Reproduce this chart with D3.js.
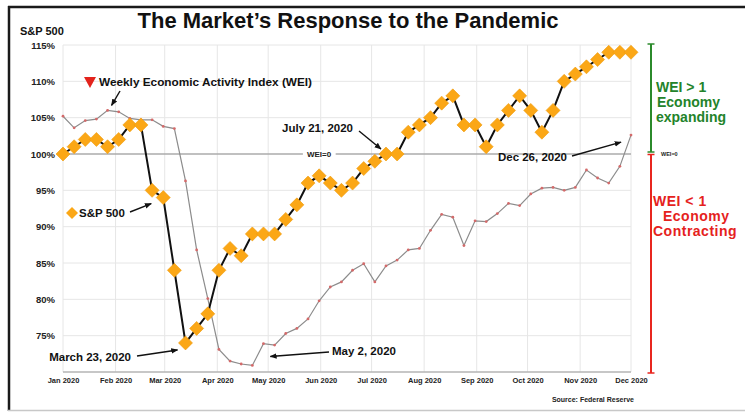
<!DOCTYPE html>
<html>
<head>
<meta charset="utf-8">
<script src="https://cdn.jsdelivr.net/npm/d3@7"></script>
<style>
  html, body { margin: 0; padding: 0; background: #fff; }
  svg { display: block; font-family: "Liberation Sans", Arial, Helvetica, sans-serif; font-weight: bold; }
</style>
</head>
<body>
<svg id="chart" width="745" height="412"></svg>
<script>
// Weekly observations, Jan 2020 through Dec 2020 (52 weeks)
const weeks = Array.from({ length: 52 }, (_, i) => i + 1);

// S&P 500, indexed to 100% at the start of the year
const sp500 = [
  100, 101, 102, 102, 101, 102, 104, 104, 95, 94,
  84, 74, 76, 78, 84, 87, 86, 89, 89, 89,
  91, 93, 96, 97, 96, 95, 96, 98, 99, 100,
  100, 103, 104, 105, 107, 108, 104, 104, 101, 104,
  106, 108, 106, 103, 106, 110, 111, 112, 113, 114,
  114, 114
];

// Weekly Economic Activity Index, drawn on the same percent scale (100% = WEI 0)
const wei = [
  105.2, 103.6, 104.6, 104.8, 106.0, 105.8, 104.9, 104.7, 104.7, 103.8,
  103.5, 96.3, 86.8, 80.1, 73.1, 71.5, 71.1, 70.9, 73.9, 73.7,
  75.3, 76.0, 77.3, 79.8, 81.7, 82.4, 84.0, 84.9, 82.4, 84.6,
  85.4, 86.8, 87.0, 89.5, 91.7, 91.3, 87.4, 90.8, 90.7, 91.8,
  93.2, 92.9, 94.5, 95.3, 95.4, 95.0, 95.4, 97.8, 96.7, 96.0,
  98.3, 102.6
];

// Axis ticks
const yTicks = [75, 80, 85, 90, 95, 100, 105, 110, 115];
const monthTicks = ["2020-01-01", "2020-02-01", "2020-03-01", "2020-04-01", "2020-05-01", "2020-06-01",
                    "2020-07-01", "2020-08-01", "2020-09-01", "2020-10-01", "2020-11-01", "2020-12-01"];

const svg = d3.select("#chart");

const plot = { left: 63, right: 631, top: 45, bottom: 372 };

const x = d3.scaleLinear().domain([1, 52]).range([plot.left, plot.right]);
const xTime = d3.scaleTime()
  .domain([new Date(2020, 0, 1), new Date(2020, 11, 1)])
  .range([plot.left, plot.right]);
const y = d3.scaleLinear().domain([70, 115]).range([plot.bottom, plot.top]);

const parse = d3.timeParse("%Y-%m-%d");
const months = monthTicks.map(parse);

// Frame
svg.append("line").attr("x1", 8).attr("x2", 745).attr("y1", 7).attr("y2", 7)
  .attr("stroke", "#1a1a1a").attr("stroke-width", 2.5);
svg.append("line").attr("x1", 9).attr("x2", 9).attr("y1", 6).attr("y2", 411)
  .attr("stroke", "#1a1a1a").attr("stroke-width", 2.5);
svg.append("line").attr("x1", 8).attr("x2", 745).attr("y1", 410.5).attr("y2", 410.5)
  .attr("stroke", "#c8c8c8").attr("stroke-width", 1.5);

// Title
svg.append("text").attr("x", 348).attr("y", 28).attr("text-anchor", "middle")
  .attr("font-size", 22).attr("fill", "#111").text("The Market’s Response to the Pandemic");

svg.append("text").attr("x", 20).attr("y", 35).attr("font-size", 11).attr("fill", "#111")
  .text("S&P 500");

// Grid
const grid = svg.append("g");
grid.selectAll("line.v").data(months).join("line").attr("class", "v")
  .attr("x1", d => xTime(d)).attr("x2", d => xTime(d))
  .attr("y1", plot.top).attr("y2", plot.bottom)
  .attr("stroke", "#e6e6e6").attr("stroke-width", 1);
grid.selectAll("line.h").data(yTicks.filter(v => v !== 100)).join("line").attr("class", "h")
  .attr("x1", plot.left).attr("x2", plot.right)
  .attr("y1", d => y(d)).attr("y2", d => y(d))
  .attr("stroke", "#e6e6e6").attr("stroke-width", 1);

// Baseline (bottom axis line)
svg.append("line").attr("x1", plot.left).attr("x2", plot.right).attr("y1", plot.bottom).attr("y2", plot.bottom)
  .attr("stroke", "#b5b5b5").attr("stroke-width", 1.5);

// WEI = 0 reference line at 100%
svg.append("line").attr("x1", plot.left).attr("x2", plot.right).attr("y1", y(100)).attr("y2", y(100))
  .attr("stroke", "#ababab").attr("stroke-width", 1.5);
const weiLbl = svg.append("text").attr("x", 319).attr("y", y(100) + 3).attr("text-anchor", "middle")
  .attr("font-size", 8).attr("fill", "#222").text("WEI=0");
const bb = weiLbl.node().getBBox();
svg.append("rect")
  .attr("x", bb.x - 4).attr("y", bb.y).attr("width", bb.width + 8).attr("height", bb.height)
  .attr("fill", "#fff");
weiLbl.raise();

// Y axis labels
const yAxis = d3.axisLeft(y).tickValues(yTicks).tickFormat(d => d + "%").tickSize(0).tickPadding(8);
const gy = svg.append("g").attr("transform", `translate(${plot.left},0)`).call(yAxis);
gy.select(".domain").remove();
gy.selectAll("text").attr("font-size", 9.5).attr("font-weight", "bold").attr("fill", "#222")
  .attr("font-family", "'Liberation Sans', Arial, sans-serif");

// X axis labels
const xAxis = d3.axisBottom(xTime).tickValues(months).tickFormat(d3.timeFormat("%b %Y")).tickSize(0).tickPadding(6);
const gx = svg.append("g").attr("transform", `translate(0,${plot.bottom})`).call(xAxis);
gx.select(".domain").remove();
gx.selectAll("text").attr("font-size", 7.5).attr("font-weight", "bold").attr("fill", "#222")
  .attr("font-family", "'Liberation Sans', Arial, sans-serif");

// WEI line with small markers
const weiLine = d3.line().x((d, i) => x(weeks[i])).y(d => y(d));
svg.append("path").datum(wei).attr("d", weiLine)
  .attr("fill", "none").attr("stroke", "#8c8c8c").attr("stroke-width", 1.2);
svg.append("g").selectAll("circle").data(wei).join("circle")
  .attr("cx", (d, i) => x(weeks[i])).attr("cy", d => y(d)).attr("r", 1.4)
  .attr("fill", "#d46a6a");

// S&P 500 line with diamond markers
const spLine = d3.line().x((d, i) => x(weeks[i])).y(d => y(d));
svg.append("path").datum(sp500).attr("d", spLine)
  .attr("fill", "none").attr("stroke", "#111").attr("stroke-width", 2);
const diamond = "M0,-7L7,0L0,7L-7,0Z";
svg.append("g").selectAll("path").data(sp500).join("path")
  .attr("d", diamond)
  .attr("transform", (d, i) => `translate(${x(weeks[i])},${y(d)})`)
  .attr("fill", "#FBA716").attr("stroke", "#EE9A0C").attr("stroke-width", 0.6);

// Arrow marker
const defs = svg.append("defs");
defs.append("marker").attr("id", "arrow").attr("viewBox", "0 0 10 10")
  .attr("refX", 9).attr("refY", 5).attr("markerWidth", 7).attr("markerHeight", 7)
  .attr("markerUnits", "userSpaceOnUse").attr("orient", "auto")
  .append("path").attr("d", "M0,1L10,5L0,9Z").attr("fill", "#111");

function arrow(x1, y1, x2, y2) {
  svg.append("line").attr("x1", x1).attr("y1", y1).attr("x2", x2).attr("y2", y2)
    .attr("stroke", "#111").attr("stroke-width", 1.4).attr("marker-end", "url(#arrow)");
}
function label(tx, ty, txt, anchor, size) {
  svg.append("text").attr("x", tx).attr("y", ty).attr("text-anchor", anchor || "start")
    .attr("font-size", size || 11.5).attr("fill", "#111").text(txt);
}

// Legend: WEI
svg.append("path").attr("d", "M-6,-5L6,-5L0,6Z").attr("transform", "translate(90,82)")
  .attr("fill", "#e3231c");
label(99, 86, "Weekly Economic Activity Index (WEI)", "start", 11.8);
arrow(120, 91, x(weeks[4]) + 4, y(wei[4]) - 5);

// Legend: S&P 500
svg.append("path").attr("d", "M0,-6L6,0L0,6L-6,0Z").attr("transform", "translate(72,213)")
  .attr("fill", "#FBA716");
label(79, 217, "S&P 500");
arrow(130, 212, x(weeks[9]) - 12, y(sp500[9]) + 6);

// Event annotations
label(131, 361, "March 23, 2020", "end");
arrow(137, 356, x(weeks[11]) - 8, y(sp500[11]) + 7);

label(332, 355, "May 2, 2020");
arrow(329, 352, x(weeks[17]) + 18, y(wei[17]) - 9);

label(353, 132, "July 21, 2020", "end");
arrow(359, 131, x(weeks[29]) - 5, y(sp500[29]) - 5);

label(567, 161, "Dec 26, 2020", "end");
arrow(572, 156, x(weeks[51]) - 10, y(wei[51]) + 7);

// Expansion / contraction brackets on the right
const bx = 651;
function bracket(y1, y2, color) {
  svg.append("line").attr("x1", bx).attr("x2", bx).attr("y1", y1).attr("y2", y2)
    .attr("stroke", color).attr("stroke-width", 2);
  [y1, y2].forEach(v => svg.append("line").attr("x1", bx - 3.5).attr("x2", bx + 3.5)
    .attr("y1", v).attr("y2", v).attr("stroke", color).attr("stroke-width", 1.5));
}
bracket(y(115) - 1, y(100) - 2, "#2b8a2b");
bracket(y(100) + 0.5, plot.bottom + 1, "#e8261f");

svg.append("text").attr("x", 661).attr("y", y(100) + 2).attr("font-size", 5.5).attr("fill", "#222").text("WEI=0");

const green = "#23832a", red = "#e5221d";
[["WEI > 1", 656, 92], ["Economy", 657, 107], ["expanding", 656, 122]].forEach(([t, tx, ty]) =>
  svg.append("text").attr("x", tx).attr("y", ty).attr("font-size", 14).attr("fill", green).text(t));
[["WEI < 1", 653, 206], ["Economy", 663, 221], ["Contracting", 653, 236]].forEach(([t, tx, ty]) =>
  svg.append("text").attr("x", tx).attr("y", ty).attr("font-size", 14).attr("letter-spacing", 0.5)
    .attr("fill", red).text(t));

// Source note
svg.append("text").attr("x", 634).attr("y", 402).attr("text-anchor", "end")
  .attr("font-size", 7).attr("fill", "#222").text("Source: Federal Reserve");
</script>
</body>
</html>
